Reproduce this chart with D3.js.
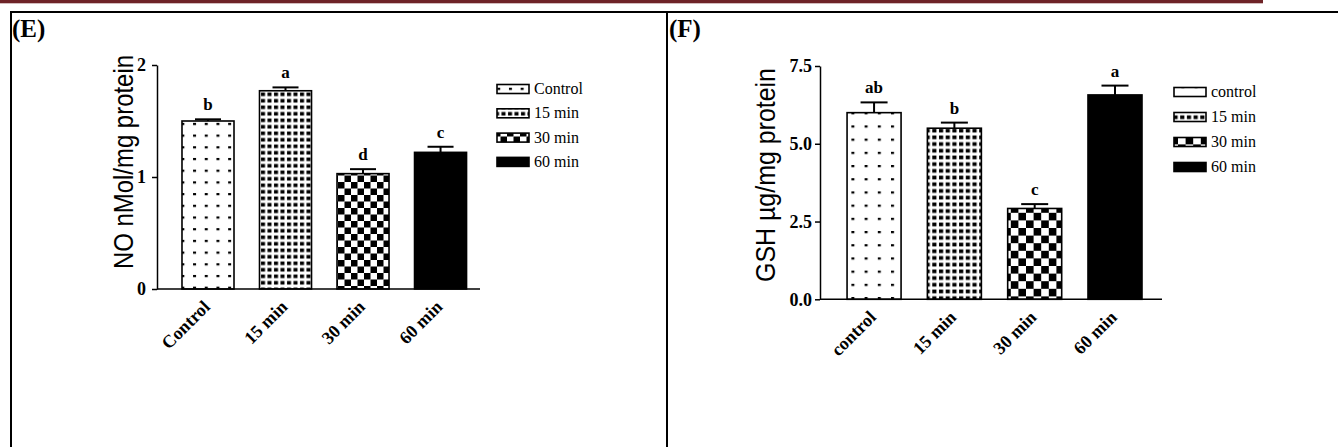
<!DOCTYPE html>
<html><head><meta charset="utf-8">
<script src="https://cdn.jsdelivr.net/npm/d3@7"></script>
<style>body{margin:0;background:#fff}svg{display:block}</style>
</head><body>
<script>
// ---- data ----
const groupsE = ["Control", "15 min", "30 min", "60 min"];
const valuesE = [1.50, 1.77, 1.03, 1.22];
const errorsE = [0.015, 0.03, 0.04, 0.05];
const lettersE = ["b", "a", "d", "c"];
const ticksE = [0, 1, 2];
const legendE = ["Control", "15 min", "30 min", "60 min"];

const groupsF = ["control", "15 min", "30 min", "60 min"];
const valuesF = [6.00, 5.50, 2.92, 6.57];
const errorsF = [0.33, 0.18, 0.14, 0.30];
const lettersF = ["ab", "b", "c", "a"];
const ticksF = [0, 2.5, 5, 7.5];
const legendF = ["control", "15 min", "30 min", "60 min"];

const W = 1338, H = 447;
const svg = d3.select("body").append("svg").attr("width", W).attr("height", H);
const defs = svg.append("defs");

function makePatterns(id, dotStep, dotW, dotH, denseStep, checker) {
  const p1 = defs.append("pattern").attr("id", id + "-p0").attr("patternUnits", "userSpaceOnUse")
    .attr("width", dotStep).attr("height", dotStep);
  p1.append("rect").attr("width", dotStep).attr("height", dotStep).attr("fill", "#fff");
  p1.append("rect").attr("x", dotStep / 2).attr("y", dotStep / 2).attr("width", dotW).attr("height", dotH).attr("fill", "#000");
  const p2 = defs.append("pattern").attr("id", id + "-p1").attr("patternUnits", "userSpaceOnUse")
    .attr("width", denseStep).attr("height", denseStep);
  p2.append("rect").attr("width", denseStep).attr("height", denseStep).attr("fill", "#fff");
  p2.append("rect").attr("x", 1).attr("y", 1.5).attr("width", denseStep * 0.62).attr("height", denseStep * 0.55).attr("fill", "#000");
  const p3 = defs.append("pattern").attr("id", id + "-p2").attr("patternUnits", "userSpaceOnUse")
    .attr("width", checker * 2).attr("height", checker * 2);
  p3.append("rect").attr("width", checker * 2).attr("height", checker * 2).attr("fill", "#fff");
  p3.append("rect").attr("width", checker).attr("height", checker).attr("fill", "#000");
  p3.append("rect").attr("x", checker).attr("y", checker).attr("width", checker).attr("height", checker).attr("fill", "#000");
}
makePatterns("E", 11.7, 3, 2.2, 6.5, 6.5);
makePatterns("F", 13.2, 3, 2.2, 6.7, 7.6);

// ---- frame ----
svg.append("rect").attr("x", 0).attr("y", 0).attr("width", 1263).attr("height", 3.3).attr("fill", "#6e2327");
svg.append("line").attr("x1", 10).attr("x2", W).attr("y1", 12).attr("y2", 12).attr("stroke", "#000").attr("stroke-width", 2.2);
svg.append("line").attr("x1", 11).attr("x2", 11).attr("y1", 11).attr("y2", H).attr("stroke", "#000").attr("stroke-width", 2);
svg.append("line").attr("x1", 667).attr("x2", 667).attr("y1", 11).attr("y2", H).attr("stroke", "#000").attr("stroke-width", 2);

const serif = "'Liberation Serif','Times New Roman',serif";
const sans = "'Liberation Sans',Arial,sans-serif";

function panel(cfg) {
  const g = svg.append("g");
  g.append("text").attr("x", cfg.labelX).attr("y", 37).text(cfg.label)
    .attr("font-family", serif).attr("font-weight", "bold").attr("font-size", 25);

  const x = d3.scaleBand().domain(cfg.groups).range([cfg.x0, cfg.x1])
    .paddingInner(cfg.pi).paddingOuter(cfg.po).align(cfg.align);
  const y = d3.scaleLinear().domain([0, cfg.ymax]).range([cfg.y0, cfg.y1]);
  const bw = x.bandwidth();

  const data = cfg.groups.map((k, i) => ({ k, v: cfg.values[i], e: cfg.errors[i], l: cfg.letters[i], i }));
  const fills = [`url(#${cfg.id}-p0)`, `url(#${cfg.id}-p1)`, `url(#${cfg.id}-p2)`, "#000"];

  const eb = g.append("g").attr("stroke", "#000").attr("stroke-width", 2);
  eb.selectAll("line.v").data(data).join("line").attr("class", "v")
    .attr("x1", d => x(d.k) + bw / 2).attr("x2", d => x(d.k) + bw / 2)
    .attr("y1", d => y(d.v)).attr("y2", d => y(d.v + d.e));
  eb.selectAll("line.c").data(data).join("line").attr("class", "c")
    .attr("x1", d => x(d.k) + bw / 2 - bw * 0.25).attr("x2", d => x(d.k) + bw / 2 + bw * 0.25)
    .attr("y1", d => y(d.v + d.e)).attr("y2", d => y(d.v + d.e));

  g.selectAll("rect.bar").data(data).join("rect").attr("class", "bar")
    .attr("x", d => x(d.k)).attr("y", d => y(d.v)).attr("width", bw)
    .attr("height", d => y(0) - y(d.v))
    .attr("fill", d => fills[d.i]).attr("stroke", "#000").attr("stroke-width", 1.6);

  g.selectAll("text.sig").data(data).join("text").attr("class", "sig")
    .attr("x", d => x(d.k) + bw / 2).attr("y", d => y(d.v + d.e) - 9)
    .attr("text-anchor", "middle").text(d => d.l)
    .attr("font-family", serif).attr("font-weight", "bold").attr("font-size", 17);

  const ya = g.append("g").attr("transform", `translate(${cfg.x0},0)`)
    .call(d3.axisLeft(y).tickValues(cfg.ticks).tickFormat(cfg.fmt).tickSize(5).tickSizeOuter(0).tickPadding(cfg.tickPad));
  ya.selectAll("path,line").attr("stroke", "#000").attr("stroke-width", 1.5);
  ya.selectAll("text").attr("font-family", serif).attr("font-weight", "bold").attr("font-size", 18).attr("fill", "#000");

  const xa = g.append("g").attr("transform", `translate(0,${cfg.y0})`)
    .call(d3.axisBottom(x).tickSize(0).tickSizeOuter(0));
  xa.select("path").attr("d", `M${cfg.x0},0H${cfg.x1}`).attr("stroke", "#000").attr("stroke-width", 1.5);
  xa.selectAll("text").attr("y", 0).attr("dy", null)
    .attr("transform", "translate(3,19) rotate(-45)").attr("text-anchor", "end")
    .attr("font-family", serif).attr("font-weight", "bold").attr("font-size", 18).attr("fill", "#000");

  g.append("text").attr("transform", `translate(${cfg.titleX},${cfg.titleY}) rotate(-90)`)
    .attr("text-anchor", "middle").text(cfg.title)
    .attr("font-family", sans).attr("font-size", 28)
    .attr("textLength", cfg.titleLen).attr("lengthAdjust", "spacingAndGlyphs");

  const lg = g.append("g");
  cfg.legend.forEach((t, i) => {
    const cy = cfg.legY + i * cfg.legStep;
    lg.append("rect").attr("x", cfg.legX).attr("y", cy - 4.5).attr("width", 32).attr("height", 9)
      .attr("fill", fills[i]).attr("stroke", "#000").attr("stroke-width", 1.6);
    lg.append("text").attr("x", cfg.legX + 37).attr("y", cy + 5).text(t)
      .attr("font-family", serif).attr("font-size", 16);
  });
}

panel({
  id: "E", label: "(E)", labelX: 12,
  groups: groupsE, values: valuesE, errors: errorsE, letters: lettersE, ticks: ticksE,
  fmt: d3.format("d"), ymax: 2, x0: 157, x1: 480, y0: 289, y1: 65,
  pi: 0.329, po: 0.248, align: 0.65, tickPad: 6,
  title: "NO nMol/mg protein", titleX: 133, titleY: 162, titleLen: 214,
  legend: legendE, legX: 497, legY: 89, legStep: 24.3
});

panel({
  id: "F", label: "(F)", labelX: 669,
  groups: groupsF, values: valuesF, errors: errorsF, letters: lettersF, ticks: ticksF,
  fmt: d3.format(".1f"), ymax: 7.5, x0: 820, x1: 1162, y0: 299.3, y1: 66,
  pi: 0.3275, po: 0.293, align: 0.575, tickPad: 3,
  title: "GSH µg/mg protein", titleX: 775, titleY: 175, titleLen: 214,
  legend: legendF, legX: 1174, legY: 92, legStep: 25
});
</script>
</body></html>
